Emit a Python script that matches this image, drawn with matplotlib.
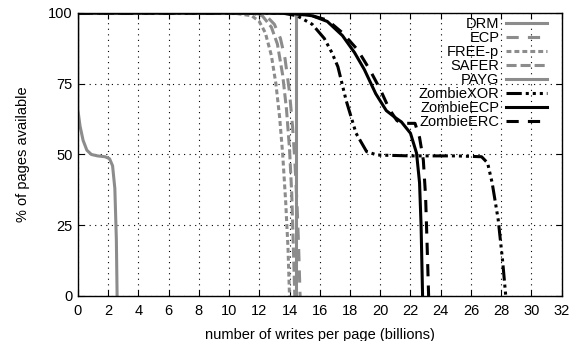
import matplotlib
matplotlib.use('Agg')
import matplotlib.pyplot as plt

plt.rcParams['font.family'] = ['Liberation Sans', 'DejaVu Sans']

# readings from the picture (x in billions of writes, y in % of pages)
drm_x = [0, 14.45, 14.45]
drm_y = [100, 100, 0]

ecp_x = [0, 11.5, 12.4, 13.0, 13.4, 13.7, 14.0, 14.2, 14.35, 14.5, 14.6, 14.7]
ecp_y = [100, 100, 99.3, 96, 91, 84, 72, 60, 48, 32, 18, 0]

freep_x = [0, 10.5, 11.5, 12.0, 12.4, 12.8, 13.1, 13.35, 13.55, 13.75, 13.9, 14.0]
freep_y = [100, 99.8, 99, 97, 93, 85, 75, 63, 50, 33, 17, 0]

safer_x = [0, 11.5, 12.2, 12.8, 13.2, 13.55, 13.8, 14.0, 14.15, 14.25, 14.35]
safer_y = [100, 99.9, 99, 95, 89, 78, 66, 52, 36, 18, 0]

payg_x = [0, 0, 0.15, 0.35, 0.6, 0.9, 1.3, 1.8, 2.1, 2.3, 2.45, 2.55, 2.6]
payg_y = [100, 66, 60, 55, 51.5, 50, 49.5, 49.2, 48.5, 46, 38, 20, 0]

zxor_x = [0, 13.5, 14.5, 15.5, 16.3, 16.8, 17.2, 17.75, 18.4, 19.1, 19.8, 22, 25, 26.7,
          27.1, 27.4, 27.8, 28.1, 28.3]
zxor_y = [100, 100, 99, 96, 91, 86, 81, 69, 57.5, 51, 49.8, 49.5, 49.5, 49.2,
          47, 40, 27, 12, 0]

zecp_x = [0, 14.0, 15.5, 16.5, 17.5, 18.3, 18.95, 19.7, 20.4, 21.0, 21.4, 22.0, 22.4,
          22.6, 22.7, 22.8]
zecp_y = [100, 100, 99, 97, 92, 86, 80, 71.5, 65.5, 63, 61.5, 57.5, 50.5, 40, 25, 0]

zerc_x = [0, 14.0, 15.5, 16.5, 17.5, 18.5, 19.3, 20.0, 20.6, 21.1, 21.4, 22.3,
          22.6, 22.85, 23.0, 23.1, 23.2]
zerc_y = [100, 100, 99, 97.5, 93, 87, 80, 73, 66, 62, 61, 61,
          56, 48, 35, 18, 0]

gray = '#8c8c8c'

fig = plt.figure(figsize=(5.72, 3.41), dpi=100)
ax = fig.add_axes([0.136, 0.132, 0.846, 0.830])

lw = 2.2
ax.plot(drm_x, drm_y, color=gray, lw=lw, label='DRM')
ax.plot(ecp_x, ecp_y, color=gray, lw=lw, dashes=(4, 3), label='ECP')
ax.plot(freep_x, freep_y, color=gray, lw=lw, dashes=(1.6, 1.0), label='FREE-p')
ax.plot(safer_x, safer_y, color=gray, lw=lw, dashes=(3.3, 1.3), label='SAFER')
ax.plot(payg_x, payg_y, color=gray, lw=lw, label='PAYG')
ax.plot(zxor_x, zxor_y, color='black', lw=lw,
        dashes=(5, 1.3, 1, 1.3, 1, 1.3, 1, 1.3), label='ZombieXOR')
ax.plot(zecp_x, zecp_y, color='black', lw=lw, label='ZombieECP')
ax.plot(zerc_x, zerc_y, color='black', lw=lw, dashes=(4, 3), label='ZombieERC')

ax.set_xlim(0, 32)
ax.set_ylim(0, 100)
ax.set_xticks(range(0, 33, 2))
ax.set_yticks([0, 25, 50, 75, 100])
ax.tick_params(direction='in', top=True, right=True, labelsize=10.5, length=4, width=0.8)
ax.tick_params(axis='x', pad=6)
ax.grid(True, color='black', linestyle=(0, (1, 4)), linewidth=0.8)
for s in ax.spines.values():
    s.set_linewidth(1.0)

ax.set_xlabel('number of writes per page (billions)', fontsize=10.5, labelpad=7)
ax.set_ylabel('% of pages available', fontsize=10.5, labelpad=13)

# markerfirst=False puts the keys on the right and right-aligns the labels
ax.legend(loc='upper right', bbox_to_anchor=(0.969, 0.985), frameon=False,
          markerfirst=False, fontsize=10.5, handlelength=2.8,
          labelspacing=0.0, handletextpad=0.45, borderaxespad=0,
          borderpad=0)

fig.savefig('out.png', dpi=100)
